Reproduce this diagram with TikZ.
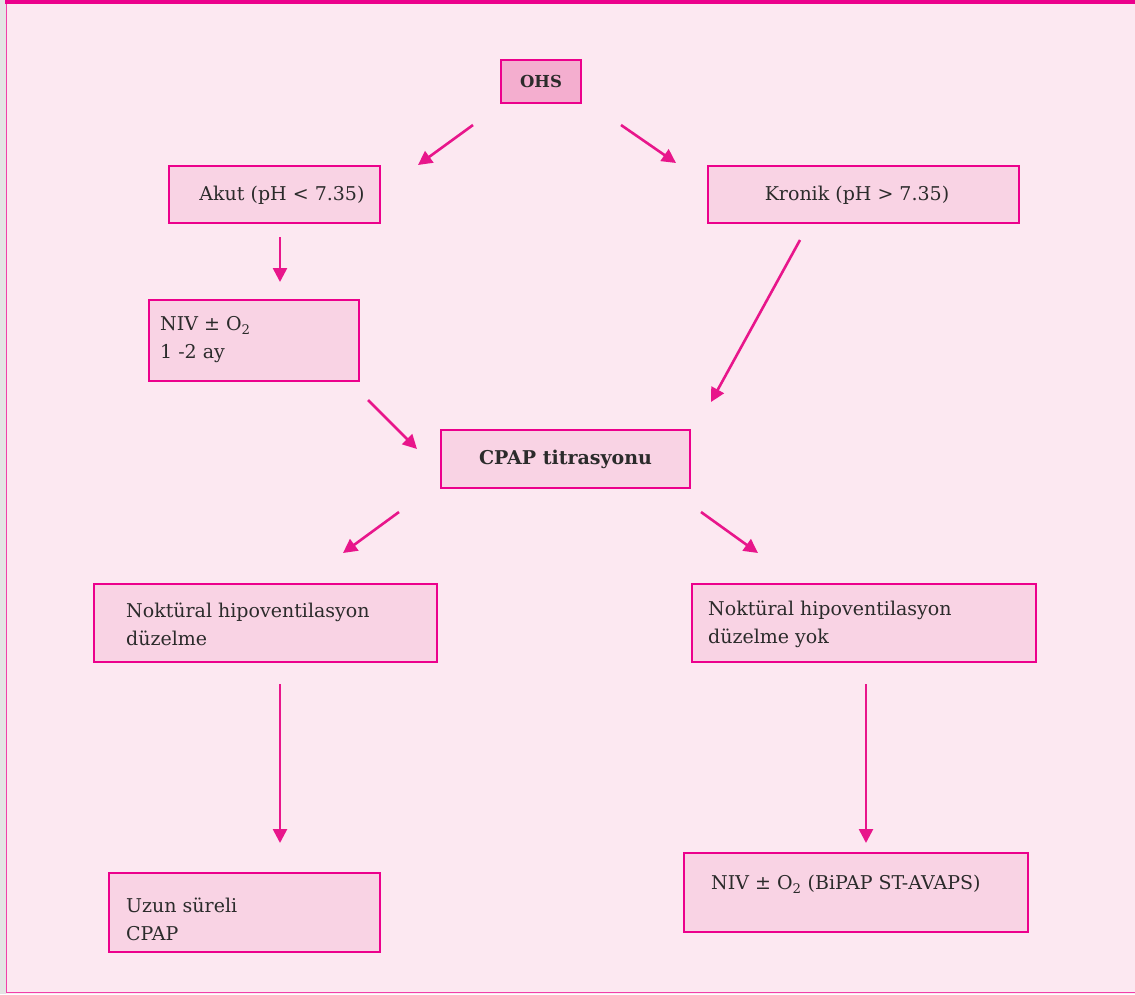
\documentclass[tikz,border=0pt]{standalone}
\usepackage{fontspec}
\setmainfont{DejaVu Serif}
\usetikzlibrary{arrows.meta}
\definecolor{bgpink}{HTML}{FCE8F1}
\definecolor{boxpink}{HTML}{F9D3E4}
\definecolor{ohspink}{HTML}{F4AECF}
\definecolor{mag}{HTML}{EC008C}
\definecolor{arr}{HTML}{E8168B}
\definecolor{txt}{HTML}{2B2B2B}
\definecolor{edge}{HTML}{E4E4E4}
\tikzset{
  x=1pt, y=-1pt,
  fbox/.style={draw=mag, line width=1.8pt, fill=boxpink, inner sep=0pt, outer sep=0pt},
  btxt/.style={text=txt, font=\fontsize{19}{28}\selectfont, align=left, anchor=west, inner sep=0pt},
  ctxt/.style={text=txt, font=\fontsize{19}{28}\selectfont, anchor=center, inner sep=0pt},
  arrow/.style={draw=arr, line width=2.6pt, -{Triangle[length=14pt,width=14pt]}},
}
\begin{document}
\begin{tikzpicture}
\useasboundingbox (0,0) rectangle (1135,994);
% background
\fill[edge] (0,0) rectangle (6,994);
\fill[bgpink] (6,4) rectangle (1135,994);
\draw[mag!75, line width=1.4pt] (6.7,4) -- (6.7,992.3) -- (1135,992.3);
\fill[mag] (5,0) rectangle (1135,4.3);
% boxes
\node[fbox, fill=ohspink, minimum width=80pt, minimum height=43pt] (ohs) at (541,81.5) {};
\node[text=txt, font=\bfseries\fontsize{16.5}{18}\selectfont] at (ohs) {OHS};
\node[fbox, minimum width=211pt, minimum height=57pt] (akut) at (274.5,194.5) {};
\node[ctxt] at (282,195) {Akut (pH < 7.35)};
\node[fbox, minimum width=311pt, minimum height=57pt] (kronik) at (863.5,194.5) {};
\node[ctxt] at (857,195) {Kronik (pH > 7.35)};
\node[fbox, minimum width=210pt, minimum height=81pt] (niv) at (254,340.5) {};
\node[btxt] at (160,339.5) {NIV ± O\textsubscript{2}\\1 -2 ay};
\node[fbox, minimum width=249pt, minimum height=58pt] (cpap) at (565.5,459) {};
\node[text=txt, font=\bfseries\fontsize{19}{22}\selectfont] at (cpap) {CPAP titrasyonu};
\node[fbox, minimum width=343pt, minimum height=78pt] (nhd) at (265.5,623) {};
\node[btxt] at (126,624) {Noktüral hipoventilasyon\\düzelme};
\node[fbox, minimum width=344pt, minimum height=78pt] (nhy) at (864,623) {};
\node[btxt] at (708,624) {Noktüral hipoventilasyon\\düzelme yok};
\node[fbox, minimum width=271pt, minimum height=79pt] (uzun) at (244.5,912.5) {};
\node[btxt] at (126,919) {Uzun süreli\\CPAP};
\node[fbox, minimum width=344pt, minimum height=79pt] (bipap) at (856,892.5) {};
\node[btxt] at (711,884) {NIV ± O\textsubscript{2} (BiPAP ST-AVAPS)};
% arrow end coordinates
\coordinate (a1s) at (473,125); \coordinate (a1e) at (418,165);
\coordinate (a2s) at (621,125); \coordinate (a2e) at (676,163);
\coordinate (a3s) at (280,237); \coordinate (a3e) at (280,282);
\coordinate (a4s) at (800,240); \coordinate (a4e) at (711,402);
\coordinate (a5s) at (368,400); \coordinate (a5e) at (417,449);
\coordinate (a6s) at (399,512); \coordinate (a6e) at (343,553);
\coordinate (a7s) at (701,512); \coordinate (a7e) at (758,553);
\coordinate (a8s) at (280,684); \coordinate (a8e) at (280,843);
\coordinate (a9s) at (866,684); \coordinate (a9e) at (866,843);
\foreach \i in {1,...,9} { \draw[arrow] (a\i s) -- (a\i e); }
\end{tikzpicture}
\end{document}
